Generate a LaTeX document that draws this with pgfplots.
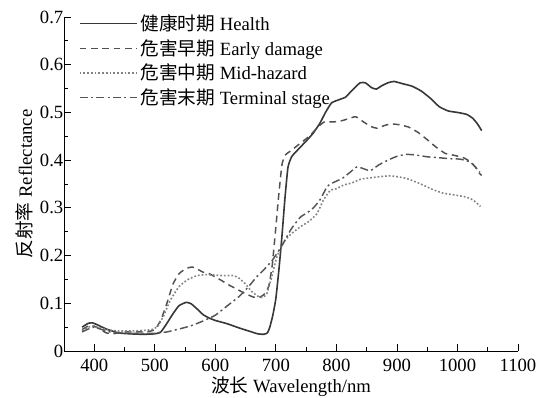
\documentclass[border=0pt]{standalone}
\usepackage{pgfplots}
\pgfplotsset{compat=1.18}
\usepackage{pgfplotstable}
\usepackage{fontspec}
\setmainfont{Liberation Serif}
\newfontfamily\cjk{Noto Sans CJK SC}
\definecolor{cA}{RGB}{55,55,55}
\definecolor{cB}{RGB}{80,80,80}
\definecolor{cC}{RGB}{130,130,130}
\definecolor{cD}{RGB}{85,85,85}
\newcommand{\fs}{\fontsize{14}{16}\selectfont}

\pgfplotstableread{
x y
380 0.050
390 0.058
397 0.059
405 0.055
420 0.046
440 0.038
460 0.036
480 0.035
500 0.036
510 0.040
520 0.058
530 0.078
540 0.095
552 0.102
560 0.099
570 0.088
580 0.076
590 0.069
600 0.064
620 0.057
640 0.048
660 0.040
670 0.036
680 0.035
686 0.038
690 0.050
695 0.075
700 0.110
705 0.170
710 0.240
715 0.320
720 0.385
726 0.407
735 0.420
750 0.440
762 0.457
773 0.478
782 0.500
792 0.520
805 0.527
815 0.532
825 0.545
839 0.562
848 0.562
858 0.552
866 0.549
875 0.556
885 0.562
895 0.565
910 0.560
925 0.555
940 0.545
955 0.530
970 0.512
985 0.503
1000 0.500
1015 0.496
1025 0.488
1033 0.476
1040 0.462
}\health

\pgfplotstableread{
x y
380 0.045
390 0.052
400 0.052
410 0.045
420 0.038
430 0.036
450 0.040
470 0.040
490 0.041
500 0.045
510 0.065
520 0.100
530 0.140
540 0.162
552 0.173
562 0.176
570 0.172
580 0.165
590 0.162
600 0.155
610 0.148
620 0.140
635 0.130
650 0.120
663 0.113
672 0.112
680 0.118
688 0.135
694 0.180
700 0.260
705 0.330
710 0.390
715 0.410
725 0.420
740 0.435
755 0.450
770 0.470
780 0.480
795 0.480
810 0.483
820 0.487
832 0.491
845 0.480
858 0.470
867 0.467
878 0.472
890 0.476
905 0.474
920 0.469
935 0.458
950 0.443
965 0.427
980 0.414
995 0.410
1010 0.405
1022 0.396
1030 0.385
1036 0.373
1040 0.368
}\early

\pgfplotstableread{
x y
380 0.042
390 0.050
400 0.052
410 0.048
425 0.044
440 0.042
460 0.042
480 0.043
495 0.045
505 0.052
515 0.075
525 0.105
540 0.135
555 0.150
570 0.158
585 0.160
600 0.159
615 0.158
630 0.158
640 0.152
650 0.140
660 0.125
670 0.115
678 0.112
685 0.120
692 0.150
700 0.190
708 0.218
715 0.232
725 0.245
740 0.260
755 0.272
768 0.288
778 0.315
790 0.337
800 0.340
812 0.348
825 0.352
840 0.360
856 0.363
870 0.365
885 0.367
897 0.366
915 0.362
930 0.355
943 0.348
960 0.338
976 0.331
990 0.328
1005 0.325
1016 0.322
1025 0.317
1032 0.310
1038 0.303
}\mid

\pgfplotstableread{
x y
380 0.040
390 0.046
400 0.050
410 0.046
425 0.040
440 0.038
460 0.037
480 0.037
500 0.037
520 0.040
540 0.046
560 0.053
580 0.063
600 0.075
620 0.095
640 0.115
655 0.135
668 0.155
680 0.170
694 0.190
702 0.205
712 0.225
725 0.255
740 0.280
752 0.290
762 0.300
773 0.317
785 0.345
795 0.353
810 0.362
823 0.375
834 0.386
845 0.382
856 0.378
870 0.390
885 0.400
900 0.408
915 0.412
930 0.411
950 0.407
970 0.405
988 0.403
1005 0.402
1021 0.396
1030 0.385
1037 0.375
}\terminal

\begin{document}
\begin{tikzpicture}
\path[use as bounding box] (-48pt,-35pt) rectangle (354pt,263.25pt);
\begin{axis}[
  scale only axis,
  width=340.5pt, height=250.5pt,
  xmin=350, xmax=1100, ymin=0, ymax=0.7,
  axis x line=bottom, axis y line=left,
  axis line style={-, black, line width=0.6pt},
  xtick={400,500,...,1100},
  ytick={0,0.1,...,0.7},
  minor x tick num=1, minor y tick num=1,
  tick align=inside,
  major tick length=5pt, minor tick length=3pt,
  tick style={black, line width=0.6pt},
  /pgf/number format/assume math mode=true,
  yticklabel style={/pgf/number format/fixed, /pgf/number format/precision=1, xshift=3pt},
  xticklabel style={/pgf/number format/1000 sep={}, inner sep=1pt, yshift=-4.5pt},
  tick label style={font=\fs},
  label style={font=\fs},
  xlabel={{\cjk 波长} Wavelength/nm},
  ylabel={{\cjk 反射率} Reflectance},
  xlabel style={inner sep=0.5pt, yshift=-2.5pt},
  ylabel style={yshift=-2pt},
  legend cell align=left,
  legend style={at={(0,1)}, anchor=north west, xshift=8pt, yshift=6pt,
    draw=none, fill=none, font=\fs, row sep=1.2pt,
    /tikz/every even column/.append style={column sep=0pt}},
  legend image code/.code={\draw[#1] (0pt,0pt) -- (43pt,0pt);},
]
\addplot[cA, line width=1.2pt, smooth, tension=0.3] table {\health};
\addlegendentry{{\cjk 健康时期} Health}
\addplot[cB, line width=1.1pt, dash pattern=on 5pt off 3.5pt, smooth, tension=0.3] table {\early};
\addlegendentry{{\cjk 危害早期} Early damage}
\addplot[cC, line width=1.2pt, dash pattern=on 1.3pt off 1.5pt, smooth, tension=0.3] table {\mid};
\addlegendentry{{\cjk 危害中期} Mid-hazard}
\addplot[cD, line width=1.1pt, dash pattern=on 6pt off 2.5pt on 1.5pt off 2.5pt, smooth, tension=0.3] table {\terminal};
\addlegendentry{{\cjk 危害末期} Terminal stage}
\end{axis}
\end{tikzpicture}
\end{document}
